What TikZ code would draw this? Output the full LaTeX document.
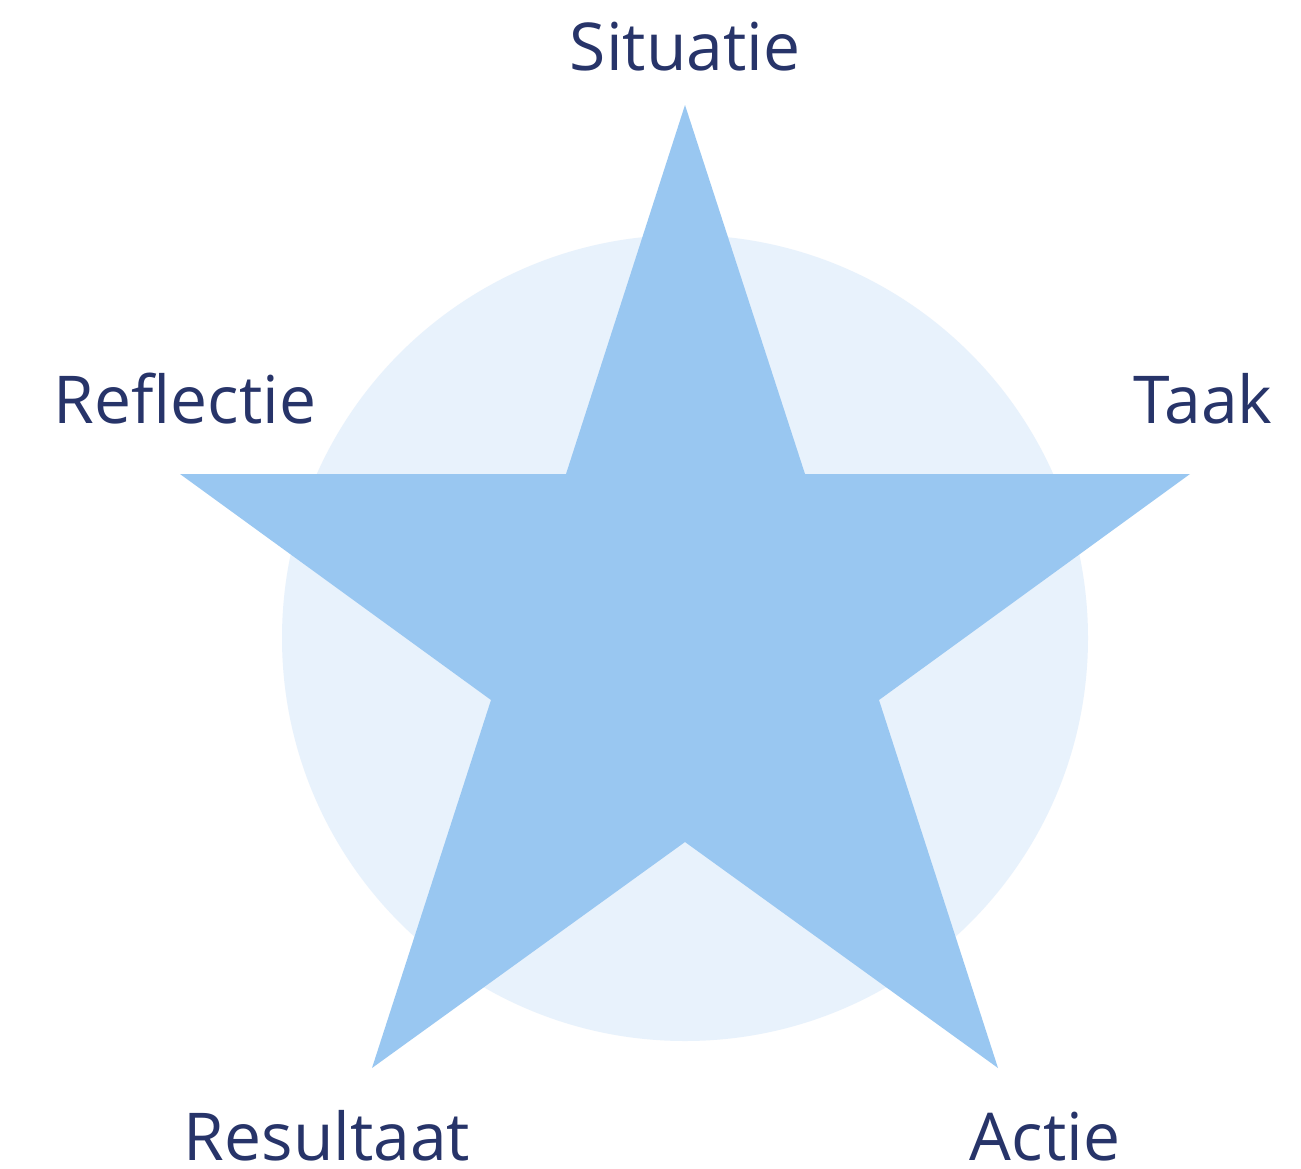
\documentclass[tikz,border=0pt]{standalone}
\usepackage{fontspec}
\setmainfont{Open Sans}
\definecolor{txt}{HTML}{273469}
\definecolor{starfill}{HTML}{99C7F1}
\definecolor{circfill}{HTML}{E8F2FC}
\begin{document}
\begin{tikzpicture}[x=1pt,y=-1pt,
  lbl/.style={text=txt,font=\fontsize{66}{70}\selectfont,anchor=base,inner sep=0pt}]
\useasboundingbox[fill=white] (0,0) rectangle (1301,1168);
\fill[circfill] (685,638) circle[radius=403];
\fill[starfill] (685,105) -- (805,474) -- (1190,474) -- (879,700) -- (998,1068)
  -- (685,842) -- (372,1068) -- (491,700) -- (180,474) -- (566,474) -- cycle;
\node[lbl] (s) at (685,70) {Situatie};
\node[lbl] (t) at (1203,423) {Taak};
\node[lbl] (r) at (185,423) {Reflectie};
\node[lbl] (res) at (327,1160) {Resultaat};
\node[lbl] (a) at (1045,1160) {Actie};
\end{tikzpicture}
\end{document}
